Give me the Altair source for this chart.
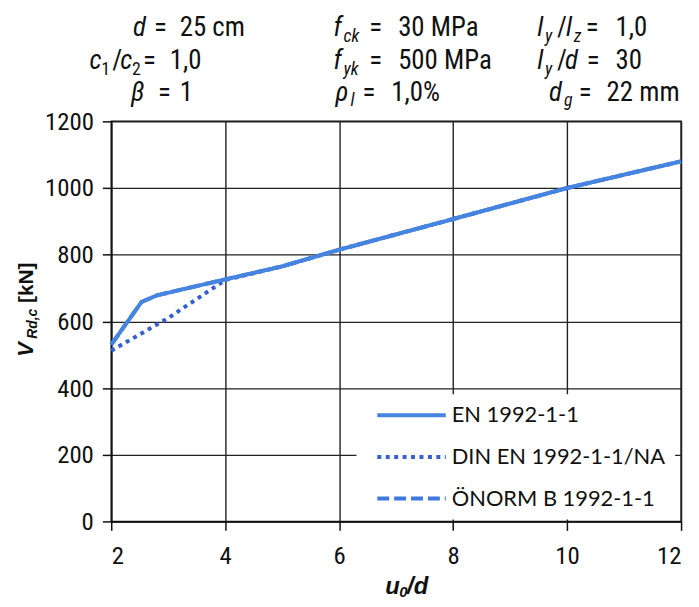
import altair as alt
import pandas as pd

# ---------------- data ----------------
series_names = ["EN 1992-1-1", "DIN EN 1992-1-1/NA", "ÖNORM B 1992-1-1"]

u_en = [2.0, 2.53, 2.8, 4.0, 5.0, 6.0, 8.0, 10.0, 12.0]
v_en = [530, 658, 678, 726, 765, 815, 907, 1000, 1080]

u_din = [2.0, 3.0, 4.0, 5.0, 6.0, 8.0, 10.0, 12.0]
v_din = [512, 610, 724, 765, 815, 907, 1000, 1080]

u_on = [2.0, 2.53, 2.8, 4.0, 5.0, 6.0, 8.0, 10.0, 12.0]
v_on = [530, 658, 678, 726, 765, 815, 907, 1000, 1080]

x_ticks = [2, 4, 6, 8, 10, 12]
y_ticks = [0, 200, 400, 600, 800, 1000, 1200]

rows = []
for name, us, vs in zip(series_names, [u_en, u_din, u_on], [v_en, v_din, v_on]):
    for i, (u, v) in enumerate(zip(us, vs)):
        rows.append({"s": name, "u": u, "v": v, "i": i})
df = pd.DataFrame(rows)

# ---------------- styling ----------------
COND = "Roboto Condensed, Roboto"
SANS = "Liberation Sans"
INK = "#111111"
colors = ["#4585e0", "#3460d4", "#3f78dc"]
dashes = [[1, 0], [4, 4.5], [12, 5]]

OX, OY = 112, 120          # plot origin in page pixels
W, H = 574, 403            # plot area

legend = alt.Legend(
    title=None, orient="none", legendX=247, legendY=275,
    fillColor="white", padding=10,
    symbolType="M0,0H13.8", symbolSize=100,
    symbolStrokeWidth=4, labelFont="Lato", labelFontSize=22, labelColor=INK,
    labelOffset=64, rowPadding=20, labelLimit=400,
)

color_enc = alt.Color("s:N", scale=alt.Scale(domain=series_names, range=colors), legend=legend)
dash_enc = alt.StrokeDash("s:N", scale=alt.Scale(domain=series_names, range=dashes), legend=legend)

x_enc = alt.X("u:Q", scale=alt.Scale(domain=[2, 12], nice=False, zero=False),
              axis=alt.Axis(values=x_ticks, title=None, labelPadding=13))
y_enc = alt.Y("v:Q", scale=alt.Scale(domain=[0, 1200], nice=False),
              axis=alt.Axis(values=y_ticks, title=None, labelPadding=9, format="d"))

def series_layer(name):
    return alt.Chart(df).transform_filter(alt.datum.s == name).mark_line(
        strokeWidth=4, strokeJoin="round"
    ).encode(x=x_enc, y=y_enc, color=color_enc, strokeDash=dash_enc, order="i:Q")

one = alt.Data(values=[{"a": 1}])

def piece(text, sx, sy, size=27, style="normal", weight="normal", angle=0, font=COND):
    return alt.Chart(one).mark_text(
        text=text, font=font, fontSize=size, fontStyle=style, fontWeight=weight,
        align="left", baseline="alphabetic", angle=angle, color=INK,
    ).encode(x=alt.value(sx - OX), y=alt.value(sy - OY))

def it(t, x, y):
    return piece(t, x, y, style="italic")

def sub(t, x, y, italic=True):
    return piece(t, x, y + 6, size=18, style="italic" if italic else "normal")

texts = []
b1, b2, b3 = 34, 67, 99
# header line 1
texts += [
    it("d", 134, b1), piece("=", 155, b1), piece("25 cm", 181, b1),
    it("f", 336, b1), sub("ck", 346, b1), piece("=", 372, b1), piece("30 MPa", 401, b1),
    it("l", 541, b1), sub("y", 549, b1), piece("/", 561, b1), it("l", 570, b1),
    sub("z", 578, b1), piece("=", 590, b1), piece("1,0", 620, b1),
]
# header line 2
texts += [
    it("c", 90, b2), sub("1", 102, b2, italic=False), piece("/", 113, b2), it("c", 121, b2),
    sub("2", 133, b2, italic=False), piece("=", 144, b2), piece("1,0", 171, b2),
    it("f", 336, b2), sub("yk", 346, b2), piece("=", 372, b2), piece("500 MPa", 401, b2),
    it("l", 541, b2), sub("y", 549, b2), piece("/", 561, b2), it("d", 569, b2),
    piece("=", 591, b2), piece("30", 620, b2),
]
# header line 3
texts += [
    it("β", 132, b3), piece("=", 159, b3), piece("1", 181, b3),
    it("ρ", 338, b3), sub("l", 353, b3), piece("=", 365, b3), piece("1,0%", 394, b3),
    it("d", 553, b3), sub("g", 568, b3), piece("=", 583, b3), piece("22 mm", 611, b3),
]
# y axis title (rotated, reads upward)
texts += [
    piece("V", 33, 357, size=22, style="italic", weight="bold", angle=270, font=SANS),
    piece("Rd,c", 37, 339, size=14, style="italic", weight="bold", angle=270, font=SANS),
    piece("[kN]", 33, 303, size=21, weight="bold", angle=270, font=SANS),
]
# x axis title
texts += [
    piece("u", 388, 596, size=24, style="italic", weight="bold", font=SANS),
    piece("0", 402, 599, size=15, style="italic", weight="bold", font=SANS),
    piece("/d", 410, 596, size=24, style="italic", weight="bold", font=SANS),
]

chart = alt.layer(
    series_layer(series_names[1]),
    series_layer(series_names[2]),
    series_layer(series_names[0]),
    *texts,
).properties(
    width=W, height=H,
    background="white",
    autosize=alt.AutoSizeParams(type="none"),
    padding={"left": OX - 8, "top": OY - 8, "right": 10, "bottom": 595 - (OY - 8) - H},
).configure_view(
    stroke=INK, strokeWidth=1.5,
).configure_axis(
    labelFont=COND, labelFontSize=25, labelColor=INK,
    tickColor=INK, tickSize=9, tickWidth=1.5,
    domainColor=INK, domainWidth=1.5,
    grid=True, gridColor="#222222", gridWidth=1.4, gridOpacity=1,
)

chart.save("out.html", embed_options={"renderer": "svg", "actions": False})
